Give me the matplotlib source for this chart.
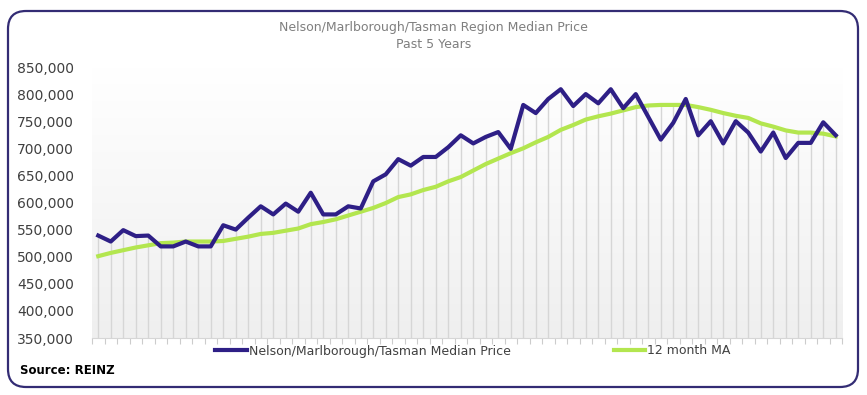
import numpy as np
import matplotlib
matplotlib.use("Agg")
import matplotlib.pyplot as plt
from matplotlib.patches import FancyBboxPatch
from matplotlib.ticker import FuncFormatter, FixedLocator
from matplotlib.colors import LinearSegmentedColormap

title = "Nelson/Marlborough/Tasman Region Median Price\nPast 5 Years"
series_names = ["Nelson/Marlborough/Tasman Median Price", "12 month MA"]

median_price = [539, 528, 549, 538, 539, 519, 519, 528, 519, 519,
                558, 550, 572, 593, 578, 598, 583, 618, 578, 578,
                593, 589, 639, 652, 680, 668, 684, 684, 702, 724,
                709, 721, 730, 699, 780, 765, 791, 809, 778, 800,
                783, 809, 774, 800, 758, 716, 747, 791, 724, 750,
                709, 750, 729, 694, 729, 682, 710, 710, 748, 724]
moving_avg = [501, 507, 512, 517, 521, 525, 526, 528, 528, 528,
              529, 533, 537, 542, 544, 548, 552, 560, 564, 569,
              576, 583, 590, 599, 610, 615, 623, 629, 639, 647,
              659, 671, 681, 691, 700, 711, 721, 734, 743, 753,
              759, 764, 770, 776, 779, 780, 780, 780, 776, 771,
              765, 760, 756, 746, 740, 733, 729, 729, 727, 722]
median_price = np.array(median_price) * 1000
moving_avg = np.array(moving_avg) * 1000
yticks = [350000, 400000, 450000, 500000, 550000, 600000, 650000, 700000, 750000, 800000, 850000]

PURPLE = "#2e1f86"
GREEN = "#b3e64f"

W, H = 867, 395
fig = plt.figure(figsize=(W / 100, H / 100), dpi=100)
fig.patch.set_facecolor("white")

ax = fig.add_axes([92 / W, 1 - 338 / H, 750 / W, (338 - 67) / H])
ax.set_facecolor("none")
n = len(median_price)
x = np.arange(n)
ax.set_xlim(-0.5, n - 0.5)
ax.set_ylim(yticks[0], yticks[-1])

# gradient background
grad = np.linspace(0, 1, 256).reshape(-1, 1)
cmap = LinearSegmentedColormap.from_list("g", ["#efefef", "#ffffff"])
ax.imshow(grad, extent=[-0.5, n - 0.5, yticks[0], yticks[-1]], origin="lower",
          aspect="auto", cmap=cmap, zorder=0)

# drop lines
top = np.maximum(median_price, moving_avg)
ax.vlines(x, yticks[0], top, color="#d6d6d6", lw=1.0, zorder=1)

ax.plot(x, median_price, color=PURPLE, lw=3.0, zorder=3,
        label=series_names[0])
ax.plot(x, moving_avg, color=GREEN, lw=3.0, zorder=2, label=series_names[1])

ax.yaxis.set_major_locator(FixedLocator(yticks))
ax.yaxis.set_major_formatter(FuncFormatter(lambda v, p: f"{int(v):,}"))
ax.tick_params(axis="y", length=0, pad=13, labelsize=10, labelcolor="#404040")
ax.set_xticks([])
ax.xaxis.set_minor_locator(FixedLocator(np.arange(-0.5, n, 1)))
ax.tick_params(axis="x", which="minor", length=4, color="#cccccc", width=0.8)
for s in ["top", "right", "left"]:
    ax.spines[s].set_visible(False)
ax.spines["bottom"].set_color("#d6d6d6")
ax.spines["bottom"].set_linewidth(0.8)

fig.text(0.5, 1 - 36 / H, title, ha="center", va="center", fontsize=9,
         color="#7f7f7f", linespacing=1.45)

fig.legend(loc="center", bbox_to_anchor=(473 / W, 1 - 351 / H), ncol=2,
           frameon=False, fontsize=9, handlelength=2.5, handletextpad=0.2,
           columnspacing=8.2, labelcolor="#404040")

fig.text(20 / W, 1 - 370 / H, "Source: REINZ", fontsize=8.5, fontweight="bold",
         ha="left", va="center", color="black")

border = FancyBboxPatch((8 / 100, (H - 387) / 100), (858 - 8) / 100, (387 - 11) / 100,
                        boxstyle="round,pad=0,rounding_size=0.18",
                        transform=fig.dpi_scale_trans, facecolor="none",
                        edgecolor="#332c74", lw=1.6)
fig.patches.append(border)

fig.savefig("out.png", dpi=100)
